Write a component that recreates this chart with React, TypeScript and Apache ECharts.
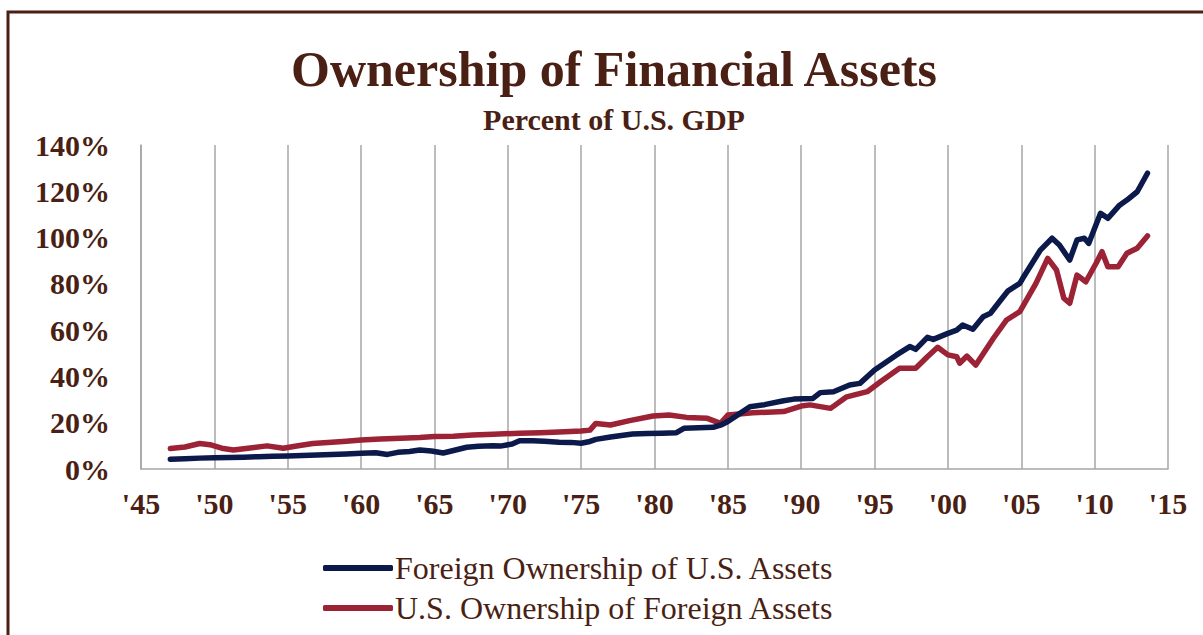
import React, { useEffect, useRef } from "react";
import * as echarts from "echarts";

const xTickYears = [1945, 1950, 1955, 1960, 1965, 1970, 1975, 1980, 1985, 1990, 1995, 2000, 2005, 2010, 2015];
const yTicks = [0, 20, 40, 60, 80, 100, 120, 140];

const foreignOwnershipUS: [number, number][] = [
  [1947.0, 4.2], [1948, 4.4], [1949, 4.7], [1950, 4.9], [1951, 5.0], [1952, 5.1], [1953, 5.3],
  [1954, 5.5], [1955, 5.6], [1956, 5.8], [1957, 6.0], [1958, 6.3], [1959, 6.5], [1960, 6.8],
  [1961, 7.0], [1961.8, 6.3], [1962.5, 7.2], [1963.3, 7.6], [1964, 8.2], [1964.8, 7.8],
  [1965.6, 6.9], [1966.3, 8.0], [1967.2, 9.4], [1968, 9.8], [1969, 10.0], [1969.5, 9.9],
  [1970.3, 10.8], [1970.8, 12.2], [1971.7, 12.2], [1972.5, 12.0], [1973.5, 11.6], [1974.3, 11.5],
  [1975, 11.1], [1975.6, 11.9], [1976, 12.8], [1977, 13.8], [1978.5, 15.1], [1979.5, 15.3],
  [1980.5, 15.5], [1981.5, 15.7], [1982, 17.6], [1983, 17.8], [1984, 18.0], [1984.6, 19.2],
  [1985, 20.5], [1985.7, 23.5], [1986.5, 26.9], [1987.5, 27.8], [1988.8, 29.5], [1989.5, 30.2],
  [1990.8, 30.5], [1991.3, 33.0], [1992.2, 33.4], [1993.3, 36.3], [1994, 37.0], [1995, 42.8],
  [1996.5, 49.3], [1997.4, 52.9], [1997.8, 51.7], [1998.6, 56.9], [1999, 56.0], [2000, 58.6],
  [2000.6, 60.0], [2001, 62.2], [2001.7, 60.4], [2002.4, 65.8], [2002.9, 67.3], [2003.6, 73.0],
  [2004.1, 77.0], [2004.9, 80.2], [2005.1, 82.4], [2006.3, 94.6], [2007.1, 99.7], [2007.6, 96.8],
  [2008.3, 90.3], [2008.8, 99.0], [2009.3, 99.7], [2009.6, 97.5], [2010.4, 110.5], [2010.9, 108.3],
  [2011.7, 114.0], [2012.2, 116.2], [2012.9, 119.8], [2013.6, 127.8],
];

const usOwnershipForeign: [number, number][] = [
  [1947.0, 8.9], [1948, 9.5], [1949, 11.0], [1949.7, 10.5], [1950.5, 9.0], [1951.3, 8.2],
  [1952.3, 9.0], [1953.6, 10.0], [1954.7, 9.0], [1955.5, 9.8], [1956.7, 11.0], [1958, 11.6],
  [1959, 12.0], [1960, 12.5], [1961.3, 13.0], [1962.7, 13.3], [1964, 13.6], [1965, 14.0],
  [1966.3, 14.2], [1967.6, 14.7], [1969, 15.0], [1970.8, 15.5], [1972.2, 15.7], [1973.5, 16.0],
  [1975, 16.4], [1975.6, 16.8], [1976, 19.7], [1977, 19.0], [1978.3, 20.9], [1979.9, 22.9],
  [1981, 23.3], [1982.2, 22.3], [1983.6, 21.9], [1984.5, 19.7], [1985, 23.3], [1986.7, 24.3],
  [1988.8, 24.8], [1990, 27.2], [1990.6, 27.7], [1992, 26.2], [1993.1, 31.2], [1994.5, 33.4],
  [1995.4, 37.7], [1996.7, 43.5], [1997.8, 43.5], [1998.6, 48.5], [1999.3, 52.6], [2000, 49.3],
  [2000.6, 48.5], [2000.8, 45.7], [2001.3, 48.8], [2001.9, 44.9], [2003.1, 56.5], [2004, 64.4],
  [2004.9, 68.0], [2006, 80.2], [2006.8, 91.0], [2007.4, 86.0], [2007.9, 73.8], [2008.3, 71.6],
  [2008.8, 83.8], [2009.4, 80.9], [2010.1, 88.9], [2010.5, 93.9], [2010.9, 87.4], [2011.6, 87.4],
  [2012.2, 93.2], [2012.9, 95.4], [2013.6, 100.7],
];

const seriesNames = ["Foreign Ownership of U.S. Assets", "U.S. Ownership of Foreign Assets"];

const BROWN = "#4a1f14";
const NAVY = "#0c1a4b";
const RED = "#9b2335";
const FONT = "'Liberation Serif', 'Times New Roman', serif";

export default function App() {
  const ref = useRef<HTMLDivElement>(null);
  useEffect(() => {
    if (!ref.current) return;
    const chart = echarts.init(ref.current, undefined, { renderer: "svg" });
    chart.setOption({
      animation: false,
      backgroundColor: "#ffffff",
      title: {
        text: "Ownership of Financial Assets",
        subtext: "Percent of U.S. GDP",
        left: 609,
        textAlign: "center",
        top: 39,
        itemGap: 10,
        textStyle: { fontFamily: FONT, fontWeight: "bold", fontSize: 50, color: BROWN },
        subtextStyle: { fontFamily: FONT, fontWeight: "bold", fontSize: 30, color: BROWN },
      },
      graphic: [
        {
          type: "rect",
          shape: { x: 8, y: 12, width: 1400, height: 800 },
          style: { fill: "none", stroke: BROWN, lineWidth: 3 },
          silent: true,
        },
      ],
      legend: {
        orient: "vertical",
        left: 318,
        top: 547,
        itemWidth: 70,
        itemHeight: 6,
        itemGap: 8,
        icon: "roundRect",
        data: seriesNames,
        textStyle: { fontFamily: FONT, fontSize: 32, color: BROWN, padding: [0, 0, 0, -3] },
      },
      grid: { left: 141, right: 35, top: 145, bottom: 166 },
      xAxis: {
        type: "value",
        min: xTickYears[0],
        max: xTickYears[xTickYears.length - 1],
        interval: 5,
        axisLine: { show: true, lineStyle: { color: "#a6a6a6", width: 1.5 } },
        axisTick: { show: false },
        splitLine: { show: true, showMinLine: true, showMaxLine: true, lineStyle: { color: "#a6a6a6", width: 1.5 } },
        axisLabel: {
          margin: 19,
          fontFamily: FONT,
          fontWeight: "bold",
          fontSize: 30,
          color: BROWN,
          formatter: (v: number) => "'" + String(v).slice(2),
        },
      },
      yAxis: {
        type: "value",
        min: yTicks[0],
        max: yTicks[yTicks.length - 1],
        interval: 20,
        axisLine: { show: true, lineStyle: { color: "#a6a6a6", width: 1.5 } },
        axisTick: { show: false },
        splitLine: { show: false },
        axisLabel: {
          margin: 31,
          fontFamily: FONT,
          fontWeight: "bold",
          fontSize: 30,
          color: BROWN,
          formatter: (v: number) => v + "%",
        },
      },
      series: [
        {
          name: seriesNames[0],
          type: "line",
          data: foreignOwnershipUS,
          showSymbol: false,
          symbol: "none",
          color: NAVY,
          lineStyle: { color: NAVY, width: 5.5, cap: "round", join: "round" },
          z: 3,
        },
        {
          name: seriesNames[1],
          type: "line",
          data: usOwnershipForeign,
          showSymbol: false,
          symbol: "none",
          color: RED,
          lineStyle: { color: RED, width: 5.5, cap: "round", join: "round" },
          z: 2,
        },
      ],
    });
    return () => chart.dispose();
  }, []);
  return (
    <div
      ref={ref}
      style={{ position: "fixed", left: 0, top: 0, width: 1203, height: 635, background: "#fff" }}
    />
  );
}
